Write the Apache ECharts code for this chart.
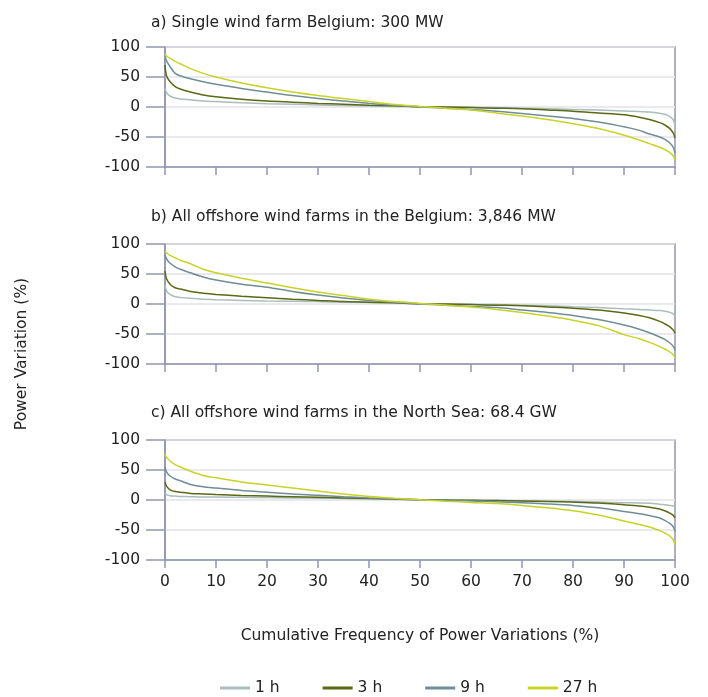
<!DOCTYPE html>
<html><head><meta charset="utf-8">
<script src="https://cdn.jsdelivr.net/npm/echarts@6/dist/echarts.min.js"></script>
<style>html,body{margin:0;padding:0;background:#fff}#c{width:708px;height:697px}</style>
</head><body><div id="c"></div>
<script>
const xs = [0, 0.3, 1, 2, 3, 5, 7.5, 10, 15, 20, 25, 30, 35, 40, 45, 50, 55, 60, 65, 70, 75, 80, 85, 90, 93, 95, 97, 98, 99, 99.7, 100];
const seriesNames = ['1 h', '3 h', '9 h', '27 h'];
const panelTitles = ['a) Single wind farm Belgium: 300 MW', 'b) All offshore wind farms in the Belgium: 3,846 MW', 'c) All offshore wind farms in the North Sea: 68.4 GW'];
const yName = 'Power Variation (%)';
const xName = 'Cumulative Frequency of Power Variations (%)';
const yTicks = [-100, -50, 0, 50, 100];
const xTicks = [0, 10, 20, 30, 40, 50, 60, 70, 80, 90, 100];

// Panel a
const a1h  = [31, 24, 18, 15, 13.5, 12, 10, 9, 7, 5.5, 4.5, 3.5, 2.5, 1.5, 1, 0.5, 0, -0.5, -1, -2, -3, -4, -5, -6.5, -7.5, -8.5, -10.5, -12, -16, -22, -32];
const a3h  = [70, 52, 42, 34, 30, 25, 20, 17, 13, 10, 8, 6, 4.5, 3, 2, 0.5, 0, -1, -2, -3, -5, -7, -10, -13, -17, -21, -26, -30, -36, -44, -52];
const a9h  = [85, 77, 67, 56, 52, 47, 42, 38, 31, 25, 19, 14, 10, 6, 3, 0, -2, -4, -7, -11, -15, -19, -25, -33, -39, -45, -50, -54, -60, -68, -77];
const a27h = [88, 85, 81, 76, 72, 64, 56, 50, 40, 32, 25, 19, 14, 9, 4, 1, -2, -5, -10, -15, -21, -28, -36, -47, -55, -61, -67, -71, -76, -82, -88];
// Panel b
const b1h  = [32, 22, 16, 12, 11, 9.5, 8, 7, 6, 5, 4.5, 4, 3, 2.5, 1.5, 0.5, 0, -0.5, -1, -2, -3, -4.5, -6, -8, -9, -10, -11, -12, -14, -17, -20];
const b3h  = [55, 42, 33, 27, 25, 21, 18, 16, 13, 10.5, 8, 6, 4, 3, 2, 0.5, 0, -1, -2, -3, -5, -7, -10, -15, -19, -23, -29, -33, -38, -44, -49];
const b9h  = [82, 75, 68, 62, 58, 52, 45, 40, 33, 28, 21, 15, 10, 6, 3, 0, -2, -4, -6, -10, -14, -19, -26, -35, -42, -48, -55, -59, -65, -71, -77];
const b27h = [88, 85, 81, 77, 73, 67, 58, 52, 43, 35, 27, 20, 14, 8, 4, 1, -2, -5, -9, -14, -20, -27, -36, -51, -58, -64, -71, -75, -80, -85, -89];
// Panel c
const c1h  = [12, 9, 7, 6.5, 6, 5.5, 5, 5, 4.5, 4, 3.5, 3, 2.5, 2, 1, 0.5, 0, -0.5, -1, -1.5, -2, -2.5, -3.5, -4.5, -5, -5.5, -7, -8, -9, -10, -11];
const c3h  = [30, 23, 17, 14, 13, 11, 10, 9, 7.5, 6.5, 5.5, 4.5, 3.5, 2.5, 1.5, 0.5, 0, -0.5, -1, -1.5, -2.5, -3.5, -5, -8, -10, -12, -15, -18, -22, -26, -30];
const c9h  = [55, 47, 40, 35, 32, 26, 22, 20, 16, 13, 10, 8, 5.5, 3.5, 2, 0.5, -0.5, -1.5, -3, -4.5, -6.5, -9, -13, -19, -23, -26, -30, -34, -39, -45, -52];
const c27h = [76, 71, 65, 59, 55, 48, 41, 37, 30, 25, 20, 15, 10, 6, 3, 0.5, -2, -4, -6, -9, -13, -18, -25, -35, -41, -45, -51, -55, -60, -67, -75];

const panels = [[a1h, a3h, a9h, a27h], [b1h, b3h, b9h, b27h], [c1h, c3h, c9h, c27h]];
const colors = ['#a9bdbb', '#5a6914', '#6f8e97', '#c9d327'];
const axisCol = '#9196ae';
const font = 'DejaVu Sans';
const tops = [47, 244, 440];
const titleTops = [10, 204, 400];

const grid = tops.map(t => ({left: 165, width: 510, top: t, height: 120, show: true, borderColor: axisCol, borderWidth: 1.5, containLabel: false}));
const xAxis = tops.map((t, i) => ({
  type: 'value', gridIndex: i, min: 0, max: 100, interval: 10,
  axisLine: {show: true, onZero: false, lineStyle: {color: axisCol, width: 1.5}},
  axisTick: {show: true, length: 8, lineStyle: {color: axisCol, width: 1.5}},
  axisLabel: {show: i === 2, color: '#222', fontFamily: font, fontSize: 15.5, margin: 14},
  splitLine: {show: false},
  name: i === 2 ? xName : '',
  nameLocation: 'middle', nameGap: 68,
  nameTextStyle: {color: '#222', fontFamily: font, fontSize: 15.5}
}));
const yAxis = tops.map((t, i) => ({
  type: 'value', gridIndex: i, min: yTicks[0], max: yTicks[yTicks.length - 1], interval: 50,
  axisLine: {show: true, lineStyle: {color: axisCol, width: 1.5}},
  axisTick: {show: true, length: 19, lineStyle: {color: axisCol, width: 1.5}},
  axisLabel: {color: '#222', fontFamily: font, fontSize: 15.5, margin: 25},
  splitLine: {show: true, lineStyle: {color: '#e2e2ea', width: 1.5}}
}));

const series = [];
panels.forEach((p, pi) => {
  p.forEach((vals, si) => {
    series.push({
      name: seriesNames[si], type: 'line', xAxisIndex: pi, yAxisIndex: pi,
      data: xs.map((x, k) => [x, vals[k]]),
      smooth: 0.3, showSymbol: false, symbol: 'none',
      lineStyle: {color: colors[si], width: 1.5},
      itemStyle: {color: colors[si]},
      z: 2 + si
    });
  });
});

const chart = echarts.init(document.getElementById('c'), null, {renderer: 'canvas'});
chart.setOption({
  animation: false,
  backgroundColor: '#fff',
  title: panelTitles.map((t, i) => ({text: t, left: 146, top: titleTops[i],
    textStyle: {color: '#222', fontFamily: font, fontSize: 15.5, fontWeight: 'normal'}})),
  legend: {data: seriesNames, left: 215, top: 675, icon: 'rect', itemWidth: 30, itemHeight: 3,
    itemGap: 43, textStyle: {color: '#222', fontFamily: font, fontSize: 15.5}},
  graphic: [{type: 'text', x: 22, y: 354, rotation: Math.PI / 2,
    style: {text: yName, fill: '#222', font: '15.5px "DejaVu Sans"', align: 'center', verticalAlign: 'middle'}}],
  grid, xAxis, yAxis, series
});
</script></body></html>
